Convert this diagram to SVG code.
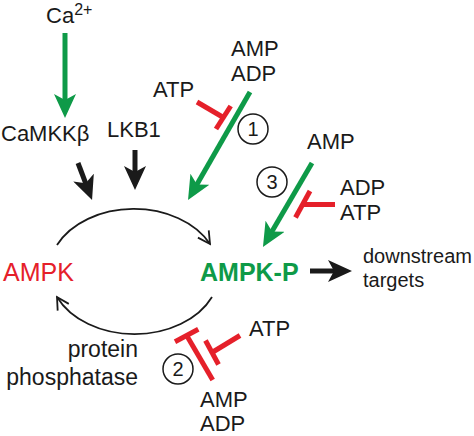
<svg xmlns="http://www.w3.org/2000/svg" width="474" height="436" viewBox="0 0 474 436">
<style>
  text { font-family: "Liberation Sans", Arial, sans-serif; font-size: 22px; fill: #1a1a1a; }
  .num { font-size: 20px; text-anchor: middle; }
  .circ { fill: none; stroke: #1a1a1a; stroke-width: 1.5; }
  .g { stroke: #0e9a48; stroke-width: 5; fill: none; }
  .k { stroke: #1a1a1a; stroke-width: 5; fill: none; }
  .r { stroke: #e5202a; stroke-width: 5; fill: none; }
  .cyc { stroke: #1a1a1a; stroke-width: 1.8; fill: none; }
</style>
<defs>
  <marker id="ag" markerUnits="userSpaceOnUse" viewBox="0 0 24 22" refX="12" refY="11" markerWidth="24" markerHeight="22" orient="auto">
    <path d="M0,0 L24,11 L0,22 L6,11 Z" fill="#0e9a48"/>
  </marker>
  <marker id="ak" markerUnits="userSpaceOnUse" viewBox="0 0 24 22" refX="12" refY="11" markerWidth="24" markerHeight="22" orient="auto">
    <path d="M0,0 L24,11 L0,22 L6,11 Z" fill="#1a1a1a"/>
  </marker>
  <marker id="open" markerUnits="userSpaceOnUse" viewBox="-14 -8 16 16" refX="0" refY="0" markerWidth="16" markerHeight="16" orient="auto" overflow="visible">
    <path d="M-12,-6.5 L0,0 L-12,6.5" fill="none" stroke="#1a1a1a" stroke-width="1.8"/>
  </marker>
</defs>

<g id="connectors">
  <path class="cyc" d="M57,245 A85,63 0 0,1 210,244" marker-end="url(#open)"/>
  <path class="cyc" d="M212,297 A85,63 0 0,1 57,297" marker-end="url(#open)"/>
  <line class="g" x1="65" y1="33" x2="65" y2="106" marker-end="url(#ag)"/>
  <line class="k" x1="78" y1="163" x2="87.8" y2="188.8" marker-end="url(#ak)"/>
  <line class="k" x1="135" y1="150" x2="135" y2="178" marker-end="url(#ak)"/>
  <line class="g" x1="250" y1="92" x2="194" y2="189.6" marker-end="url(#ag)"/>
  <line class="g" x1="312" y1="163" x2="269" y2="236.6" marker-end="url(#ag)"/>
  <line class="k" x1="310" y1="271" x2="340" y2="271" marker-end="url(#ak)"/>
  <line class="r" x1="197" y1="102" x2="223.4" y2="117.5"/>
  <line class="r" x1="230.7" y1="106" x2="216" y2="129"/>
  <line class="r" x1="335" y1="204.5" x2="303" y2="204.5"/>
  <line class="r" x1="310" y1="191" x2="295.5" y2="217.5"/>
  <line class="r" x1="212.7" y1="380" x2="186.7" y2="335.5"/>
  <line class="r" x1="175" y1="341.7" x2="198.3" y2="329.3"/>
  <line class="r" x1="240" y1="335.5" x2="212" y2="352.5"/>
  <line class="r" x1="205.5" y1="340.5" x2="218.5" y2="364.5"/>
</g>

<g id="ca"><text x="46" y="23">Ca<tspan dy="-8" font-size="16">2+</tspan></text></g>
<g id="camkk"><text x="1" y="141">CaMKKβ</text></g>
<g id="lkb1"><text x="107" y="137">LKB1</text></g>
<g id="atp1"><text x="153" y="97">ATP</text></g>
<g id="ampadp1"><text x="231" y="56">AMP</text><text x="231" y="81">ADP</text></g>
<g id="c1"><circle class="circ" cx="253" cy="129" r="15"/><text class="num" x="253" y="136">1</text></g>
<g id="amp3"><text x="307" y="149">AMP</text></g>
<g id="c3"><circle class="circ" cx="272" cy="182" r="15"/><text class="num" x="272" y="189">3</text></g>
<g id="adpatp3"><text x="340" y="195">ADP</text><text x="340" y="220">ATP</text></g>
<g id="ampk"><text x="3" y="281" style="font-size:25px;fill:#e5202a">AMPK</text></g>
<g id="ampkp"><text x="200" y="281" style="font-size:25px;font-weight:bold;fill:#0e9a48">AMPK-P</text></g>
<g id="downstream"><text x="363" y="263" style="font-size:20px">downstream</text><text x="363" y="287" style="font-size:20px">targets</text></g>
<g id="phosphatase"><text x="138" y="357" text-anchor="end" style="font-size:23px">protein</text><text x="138" y="385" text-anchor="end" style="font-size:23px">phosphatase</text></g>
<g id="atp2"><text x="249" y="336">ATP</text></g>
<g id="c2"><circle class="circ" cx="178" cy="369" r="15"/><text class="num" x="178" y="376">2</text></g>
<g id="ampadp2"><text x="200" y="407">AMP</text><text x="200" y="431">ADP</text></g>
</svg>
